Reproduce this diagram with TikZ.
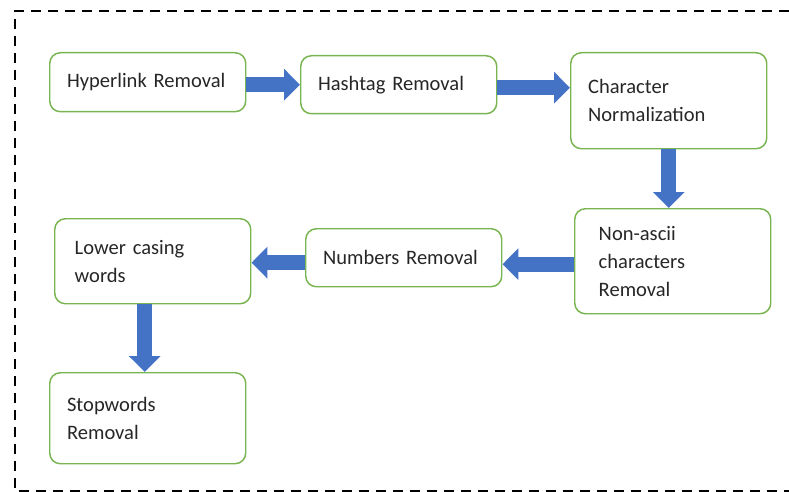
\documentclass[tikz,border=0pt]{standalone}
\usepackage{fontspec}
\setmainfont{Carlito}
\usetikzlibrary{arrows.meta,positioning}
\definecolor{boxgreen}{RGB}{120,180,80}
\definecolor{arrowblue}{RGB}{68,114,196}
\newdimen\pxu \pxu=0.75pt
\tikzset{
  stepbox/.style={draw=boxgreen, line width=1.1pt, rounded corners=8pt,
    anchor=north west, minimum width=196\pxu, text width=121pt,
    inner xsep=13pt, inner ysep=0pt, align=left,
    font=\fontsize{15.4}{21}\selectfont, text=black!85},
  flowarrow/.style={draw=arrowblue, line width=11.25pt,
    -{Triangle[length=12pt,width=23.25pt]}},
  frameline/.style={line width=1.65pt, dash pattern=on 7.5pt off 5.25pt}
}
\begin{document}
\begin{tikzpicture}[x=0.75pt,y=-0.75pt]
\useasboundingbox (0,0) rectangle (789,492);

% dashed frame
\draw[frameline] (789,11) -- (15,11) -- (15,491) -- (789,491);

% steps
\node[stepbox, minimum height=59\pxu] at (49,52) (hyper) {Hyperlink Removal};
\node[stepbox, minimum height=58\pxu] at (300,55) (hash) {Hashtag Removal};
\node[stepbox, minimum height=96\pxu] at (570,52) (norm) {Character\\Normalization};
\node[stepbox, minimum height=105\pxu, inner xsep=18pt, text width=111pt] at (574,208) (nonascii) {Non-ascii\\characters\\Removal};
\node[stepbox, minimum height=58\pxu] at (305,228) (numbers) {Numbers Removal};
\node[stepbox, minimum height=85\pxu, inner xsep=15pt, text width=117pt] at (54,218) (lower) {Lower casing\\words};
\node[stepbox, minimum height=91\pxu] at (49,372) (stop) {Stopwords\\Removal};

% arrows
\draw[flowarrow] (hyper.east |- hash.west) -- (hash.west);
\draw[flowarrow] ([yshift=-2.25pt]hash.east) -- ([yshift=-2.25pt]hash.east -| norm.west);
\draw[flowarrow] (norm.south) -- (norm.south |- nonascii.north);
\draw[flowarrow] ([yshift=-2.25pt]nonascii.west) -- ([yshift=-2.25pt]nonascii.west -| numbers.east);
\draw[flowarrow] ([yshift=-3.75pt]numbers.west) -- ([yshift=-3.75pt]numbers.west -| lower.east);
\draw[flowarrow] ([xshift=-6pt]lower.south) -- ([xshift=-6pt]lower.south |- stop.north);
\end{tikzpicture}
\end{document}
